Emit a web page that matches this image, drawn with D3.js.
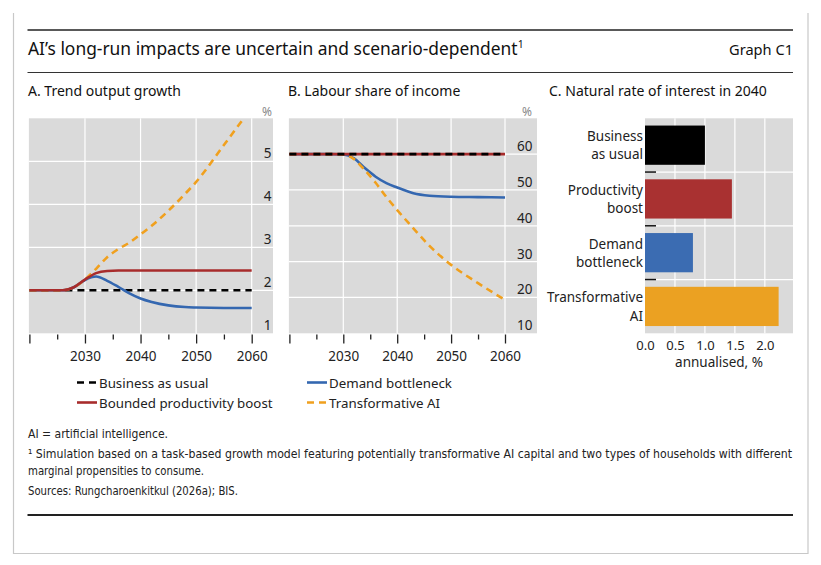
<!DOCTYPE html>
<html lang="en">
<head>
<meta charset="UTF-8">
<title>AI's long-run impacts are uncertain and scenario-dependent</title>
<script src="https://cdn.jsdelivr.net/npm/d3@7"></script>
<style>
  body { margin: 0; background: #fff; }
  svg { display: block; font-family: "Noto Sans", "Open Sans", sans-serif; }
  .tick text { font-size: 13.5px; fill: #222; font-family: "Noto Sans", "Open Sans", sans-serif; }
  .tick line { stroke: #222; stroke-width: 1.3; }
  .ylab { font-size: 13.5px; fill: #222; }
  .grid { stroke: #fff; stroke-width: 1.2; }
  .foot { font-family: "Liberation Sans Narrow", "DejaVu Sans Condensed", "Noto Sans", sans-serif; font-size: 12.3px; fill: #222; }
</style>
</head>
<body>
<svg width="821" height="565"></svg>
<script>
// ---- data ----
const scenarioNames = ["Business as usual", "Demand bottleneck", "Bounded productivity boost", "Transformative AI"];
const scenarioColors = ["#000000", "#3467b0", "#a82c2c", "#f0a01e"];
const scenarioDashed = [true, false, false, true];

// A. Trend output growth, %
const yearsA = [2020, 2026, 2028, 2030, 2032, 2034, 2036, 2038, 2040, 2042, 2045, 2048, 2050, 2055, 2060];
const growthBusiness       = [2.0, 2.0, 2.0, 2.0, 2.0, 2.0, 2.0, 2.0, 2.0, 2.0, 2.0, 2.0, 2.0, 2.0, 2.0];
const growthDemand         = [2.0, 2.0, 2.07, 2.24, 2.32, 2.22, 2.08, 1.93, 1.81, 1.73, 1.65, 1.61, 1.60, 1.59, 1.59];
const growthProductivity   = [2.0, 2.0, 2.07, 2.25, 2.40, 2.45, 2.46, 2.46, 2.46, 2.46, 2.46, 2.46, 2.46, 2.46, 2.46];
const growthTransformative = [2.0, 2.0, 2.07, 2.25, 2.50, 2.77, 2.96, 3.11, 3.30, 3.50, 3.85, 4.24, 4.52, 5.38, 6.25];

// B. Labour share of income, %
const yearsB = [2020, 2028, 2030, 2032, 2034, 2036, 2038, 2040, 2043, 2046, 2050, 2055, 2060];
const labourBusiness       = [60, 60, 60, 60, 60, 60, 60, 60, 60, 60, 60, 60, 60];
const labourDemand         = [60, 60, 59.9, 58.8, 56.1, 53.7, 51.9, 50.7, 49.1, 48.4, 48.1, 48.0, 47.9];
const labourProductivity   = [60, 60, 60, 60, 60, 60, 60, 60, 60, 60, 60, 60, 60];
const labourTransformative = [60, 60, 59.9, 58.6, 55.5, 52.0, 48.0, 44.4, 39.3, 34.4, 29.1, 24.0, 19.3];

// C. Natural rate of interest in 2040, annualised %
const rateCategories = [["Business", "as usual"], ["Productivity", "boost"], ["Demand", "bottleneck"], ["Transformative", "AI"]];
const rateValues = [1.0, 1.45, 0.8, 2.23];
const rateColors = ["#000000", "#a93131", "#3b6cb2", "#eba122"];

const yearTicks = [2020, 2030, 2040, 2050, 2060];
const yearMinorTicks = [2025, 2035, 2045, 2055];
const growthTicks = [1, 2, 3, 4, 5];
const labourTicks = [10, 20, 30, 40, 50, 60];
const rateTicks = [0, 0.5, 1.0, 1.5, 2.0];

const svg = d3.select("svg");
const plotTop = 118.3, plotBottom = 333.3;

// frame and rules
svg.append("path").attr("d", "M13.5,13V553.5H808V13")
  .attr("fill", "none").attr("stroke", "#c8c8c8").attr("stroke-width", 1.2);
svg.append("line").attr("x1", 27.5).attr("x2", 793).attr("y1", 30).attr("y2", 30)
  .attr("stroke", "#222").attr("stroke-width", 1.5);
svg.append("line").attr("x1", 27.5).attr("x2", 793).attr("y1", 72.5).attr("y2", 72.5)
  .attr("stroke", "#333").attr("stroke-width", 1.1);
svg.append("line").attr("x1", 27.5).attr("x2", 793).attr("y1", 515).attr("y2", 515)
  .attr("stroke", "#222").attr("stroke-width", 1.8);

// title
const title = svg.append("text").attr("x", 28).attr("y", 55).attr("font-size", 17.4).attr("fill", "#111")
  .text("AI’s long-run impacts are uncertain and scenario-dependent");
title.append("tspan").attr("font-size", 10.5).attr("dy", -7).text("1");
svg.append("text").attr("x", 793).attr("y", 55).attr("text-anchor", "end").attr("font-size", 14.6).attr("fill", "#111")
  .text("Graph C1");

// line panels
function linePanel(o) {
  const g = svg.append("g");
  const x = d3.scaleLinear().domain([2020, 2060]).range([o.x0, o.x1]);
  const y = d3.scaleLinear().domain(o.yDomain).range([plotBottom, plotTop]);

  g.append("text").attr("x", o.titleX).attr("y", 96).attr("font-size", 14).attr("fill", "#111").text(o.title);

  g.append("rect").attr("x", o.x0 - 0.5).attr("y", plotTop).attr("width", o.gx1 - o.x0 + 0.5)
    .attr("height", plotBottom - plotTop).attr("fill", "#dadada");

  g.selectAll(".vgrid").data([2030, 2040, 2050, 2060]).join("line").attr("class", "grid")
    .attr("x1", d => x(d)).attr("x2", d => x(d)).attr("y1", plotTop).attr("y2", plotBottom);
  g.selectAll(".hgrid").data(o.yTicks.filter(v => y(v) < plotBottom - 1)).join("line").attr("class", "grid")
    .attr("x1", o.x0 - 0.5).attr("x2", o.gx1).attr("y1", d => y(d)).attr("y2", d => y(d));

  g.selectAll(".ylab").data(o.yTicks).join("text").attr("class", "ylab")
    .attr("x", o.x1 + 12).attr("y", d => y(d) - 3).text(d => d);
  g.append("text").attr("x", o.pctX).attr("y", 116).attr("text-anchor", "end")
    .attr("font-size", 12).attr("fill", "#888").text("%");

  const clipId = "clip" + o.id;
  g.append("clipPath").attr("id", clipId).append("rect")
    .attr("x", o.x0 - 2).attr("y", plotTop).attr("width", o.gx1 - o.x0 + 2).attr("height", plotBottom - plotTop);

  const line = d3.line().x((d, i) => x(o.years[i])).y(d => y(d)).curve(d3.curveMonotoneX);
  o.order.forEach(k => {
    g.append("path").attr("clip-path", `url(#${clipId})`)
      .attr("d", line(o.series[k])).attr("fill", "none")
      .attr("stroke", scenarioColors[k]).attr("stroke-width", 2.6)
      .attr("stroke-dasharray", scenarioDashed[k] ? "7,5" : null);
  });

  const axis = g.append("g").attr("transform", `translate(0,${plotBottom + 1.2})`)
    .call(d3.axisBottom(x).tickValues(yearTicks).tickSize(9).tickPadding(8)
      .tickFormat(d => d === 2020 ? "" : d));
  axis.select(".domain").remove();
  const minor = g.append("g").attr("transform", `translate(0,${plotBottom + 1.2})`)
    .call(d3.axisBottom(x).tickValues(yearMinorTicks).tickSize(5).tickFormat(""));
  minor.select(".domain").remove();
}

linePanel({
  id: "A", title: "A. Trend output growth", titleX: 28,
  x0: 29.4, x1: 251.7, gx1: 273, pctX: 272,
  years: yearsA, yDomain: [1, 6], yTicks: growthTicks,
  series: [growthBusiness, growthDemand, growthProductivity, growthTransformative],
  order: [0, 1, 3, 2]
});
linePanel({
  id: "B", title: "B. Labour share of income", titleX: 288,
  x0: 289.4, x1: 505, gx1: 537, pctX: 532,
  years: yearsB, yDomain: [10, 70], yTicks: labourTicks,
  series: [labourBusiness, labourDemand, labourProductivity, labourTransformative],
  order: [1, 3, 2, 0]
});

// bar panel
const gc = svg.append("g");
const xc = d3.scaleLinear().domain([0, 2.47]).range([645, 793]);
const yc = d3.scaleBand().domain(d3.range(rateValues.length)).range([plotTop, plotBottom]).paddingInner(0.27).paddingOuter(0.135);

gc.append("text").attr("x", 549).attr("y", 96).attr("font-size", 14).attr("fill", "#111")
  .text("C. Natural rate of interest in 2040");
gc.append("rect").attr("x", 645).attr("y", plotTop).attr("width", 793 - 645).attr("height", plotBottom - plotTop)
  .attr("fill", "#dadada");
gc.selectAll(".vg").data(rateTicks.slice(1)).join("line").attr("class", "grid")
  .attr("x1", d => xc(d)).attr("x2", d => xc(d)).attr("y1", plotTop).attr("y2", plotBottom);

const step = (plotBottom - plotTop) / rateValues.length;
const bounds = d3.range(1, rateValues.length).map(i => plotTop + i * step);
gc.selectAll(".hg").data(bounds).join("line").attr("class", "grid")
  .attr("x1", 645).attr("x2", 793).attr("y1", d => d).attr("y2", d => d);
gc.selectAll(".sep").data(bounds).join("line")
  .attr("x1", 645).attr("x2", 656).attr("y1", d => d).attr("y2", d => d)
  .attr("stroke", "#111").attr("stroke-width", 1.5);

gc.selectAll(".bar").data(rateValues).join("rect")
  .attr("x", xc(0)).attr("y", (d, i) => yc(i)).attr("width", d => xc(d) - xc(0))
  .attr("height", yc.bandwidth()).attr("fill", (d, i) => rateColors[i]);

rateCategories.forEach((lines, i) => {
  const cy = yc(i) + yc.bandwidth() / 2;
  const t = gc.append("text").attr("text-anchor", "end").attr("font-size", 13.5).attr("fill", "#222");
  lines.forEach((s, j) => {
    t.append("tspan").attr("x", 643).attr("y", cy + (j - (lines.length - 1) / 2) * 18.3 + 5).text(s);
  });
});

const axc = gc.append("g").attr("transform", `translate(0,${plotBottom})`)
  .call(d3.axisBottom(xc).tickValues(rateTicks).tickSize(0).tickPadding(7).tickFormat(d3.format(".1f")));
axc.select(".domain").remove();
axc.selectAll(".tick text").style("font-size", "13px");
gc.append("text").attr("x", 719).attr("y", 367).attr("text-anchor", "middle").attr("font-size", 13.5)
  .attr("fill", "#222").text("annualised, %");

// legend
const legendItems = [
  { k: 0, x: 77, y: 382.5 }, { k: 1, x: 307, y: 382.5 },
  { k: 2, x: 77, y: 402.5 }, { k: 3, x: 307, y: 402.5 }
];
legendItems.forEach(it => {
  svg.append("line").attr("x1", it.x).attr("x2", it.x + 20).attr("y1", it.y).attr("y2", it.y)
    .attr("stroke", scenarioColors[it.k]).attr("stroke-width", 2.6)
    .attr("stroke-dasharray", scenarioDashed[it.k] ? "7,5" : null);
  svg.append("text").attr("x", it.x + 22).attr("y", it.y + 5).attr("font-size", 13.3).attr("fill", "#222")
    .text(scenarioNames[it.k]);
});

// notes
const notes = [
  { t: "AI = artificial intelligence.", y: 437.5, w: 140 },
  { t: "¹  Simulation based on a task-based growth model featuring potentially transformative AI capital and two types of households with different", y: 458, w: 764 },
  { t: "marginal propensities to consume.", y: 474.5, w: 176 },
  { t: "Sources: Rungcharoenkitkul (2026a); BIS.", y: 495, w: 210 }
];
notes.forEach(n => {
  svg.append("text").attr("class", "foot").attr("x", 28).attr("y", n.y)
    .attr("textLength", n.w).attr("lengthAdjust", "spacingAndGlyphs").text(n.t);
});
</script>
</body>
</html>
